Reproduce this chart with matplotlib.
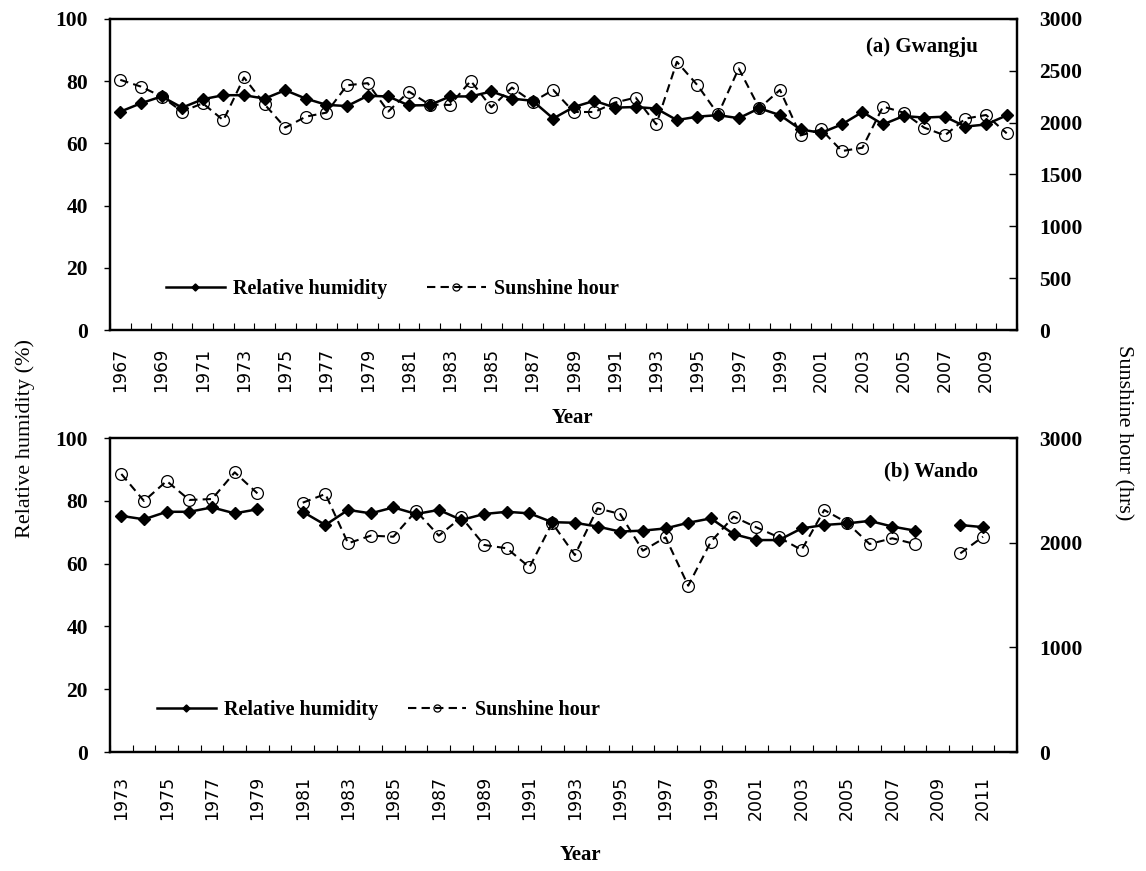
import numpy as np
import matplotlib
matplotlib.use("Agg")
import matplotlib.pyplot as plt
from matplotlib.ticker import FixedLocator, NullFormatter

# (a) Gwangju, 1967-2010
years_a = list(range(1967, 2011))
rh_a = [70.2, 72.9, 75.1, 71.5, 74.2, 75.5, 75.5, 74.4, 77.1, 74.4,
        72.4, 72.0, 75.3, 75.1, 72.2, 72.3, 75.1, 75.1, 76.7, 74.4,
        73.7, 68.0, 71.7, 73.7, 71.5, 71.7, 71.2, 67.5, 68.6, 69.1,
        68.1, 71.3, 69.1, 64.5, 63.4, 66.1, 70.1, 66.1, 68.8, 68.3,
        68.6, 65.4, 66.1, 69.0]
sh_a = [2413, 2348, 2252, 2107, 2187, 2023, 2436, 2177, 1952, 2058,
        2097, 2361, 2381, 2107, 2300, 2174, 2171, 2403, 2148, 2339,
        2200, 2316, 2103, 2103, 2194, 2242, 1984, 2587, 2361, 2081,
        2523, 2139, 2316, 1877, 1935, 1726, 1758, 2155, 2097, 1952,
        1877, 2039, 2074, 1897]

# (b) Wando, 1973-2012 (1980, 2009, 2012 missing)
years_b = list(range(1973, 2013))
rh_b = [75.2, 74.1, 76.5, 76.5, 77.9, 76.0, 77.3, np.nan, 76.5, 72.3,
        77.1, 76.0, 77.9, 75.8, 77.1, 73.9, 75.8, 76.5, 76.0, 73.2,
        73.0, 71.8, 70.2, 70.5, 71.2, 73.0, 74.4, 69.4, 67.5, 67.5,
        71.2, 72.3, 72.8, 73.6, 71.8, 70.5, np.nan, 72.3, 71.6, np.nan]
sh_b = [2656, 2398, 2589, 2408, 2417, 2672, 2471, np.nan, 2382, 2465,
        1994, 2067, 2057, 2303, 2067, 2242, 1978, 1946, 1765, 2188,
        1882, 2328, 2274, 1923, 2051, 1589, 2009, 2248, 2147, 2051,
        1930, 2312, 2191, 1987, 2042, 1987, np.nan, 1898, 2057, np.nan]

serif = "Liberation Serif"

fig = plt.figure(figsize=(11.46, 8.71), dpi=100)


def panel(rect, years, rh, sh, title, sh_ticks, title_y, leg_pos, xpad, colsp):
    ax = fig.add_axes(rect)
    ax2 = ax.twinx()
    x = np.arange(len(years))

    l1, = ax.plot(x, rh, color="black", lw=1.8, marker="D", ms=6,
                  label="Relative humidity", zorder=3)
    l2, = ax2.plot(x, sh, color="black", lw=1.5, ls=(0, (4, 2.5)),
                   marker="o", ms=8.5, mfc="none", mec="black", mew=0.9,
                   label="Sunshine hour")

    ax.set_xlim(-0.5, len(years) - 0.5)
    ax.set_ylim(0, 100)
    ax2.set_ylim(0, 3000)

    ax.set_xticks(x[::2])
    ax.set_xticklabels([str(y) for y in years[::2]], rotation=90,
                       fontsize=12.5, family="DejaVu Sans")
    ax.xaxis.set_minor_locator(FixedLocator(np.arange(len(years) + 1) - 0.5))
    ax.xaxis.set_minor_formatter(NullFormatter())
    ax.tick_params(axis="x", which="major", length=0, pad=xpad)
    ax.tick_params(axis="x", which="minor", direction="in", length=5, width=0.8)

    ax.set_yticks([0, 20, 40, 60, 80, 100])
    ax.tick_params(axis="y", direction="out", length=4, width=1, pad=12)
    ax2.set_yticks(sh_ticks)
    ax2.tick_params(axis="y", direction="in", length=6, width=1, pad=16)
    for lab in ax.get_yticklabels() + ax2.get_yticklabels():
        lab.set_family(serif)
        lab.set_fontweight("bold")
        lab.set_fontsize(15.5)

    for a in (ax, ax2):
        for s in a.spines.values():
            s.set_linewidth(1.6)

    ax.text(0.957, title_y, title, transform=ax.transAxes, ha="right",
            va="center", family=serif, fontweight="bold", fontsize=15)

    ax.legend([l1, l2], ["Relative humidity", "Sunshine hour"], ncol=2,
              loc="center left", bbox_to_anchor=leg_pos, frameon=False,
              borderaxespad=0, borderpad=0, handlelength=2.9,
              handletextpad=0.4, columnspacing=colsp, markerscale=0.6,
              prop={"family": serif, "weight": "bold", "size": 14.5})
    return ax


panel([110 / 1146, 1 - 330 / 871, 907 / 1146, 311 / 871],
      years_a, rh_a, sh_a, "(a) Gwangju",
      [0, 500, 1000, 1500, 2000, 2500, 3000], 0.91, (0.062, 0.132), 13, 2.0)
panel([110 / 1146, 1 - 752 / 871, 907 / 1146, 314 / 871],
      years_b, rh_b, sh_b, "(b) Wando",
      [0, 1000, 2000, 3000], 0.892, (0.052, 0.134), 17, 1.5)

fig.text(572 / 1146, 1 - 418 / 871, "Year", ha="center", va="center",
         family=serif, fontweight="bold", fontsize=15)
fig.text(580 / 1146, 1 - 855 / 871, "Year", ha="center", va="center",
         family=serif, fontweight="bold", fontsize=15)
fig.text(25 / 1146, 1 - 438 / 871, "Relative humidity (%)", rotation=90,
         ha="center", va="center", family=serif, fontsize=16)
fig.text(1123 / 1146, 1 - 433 / 871, "Sunshine hour (hrs)", rotation=-90,
         ha="center", va="center", family=serif, fontsize=16)

fig.savefig("out.png", dpi=100)
